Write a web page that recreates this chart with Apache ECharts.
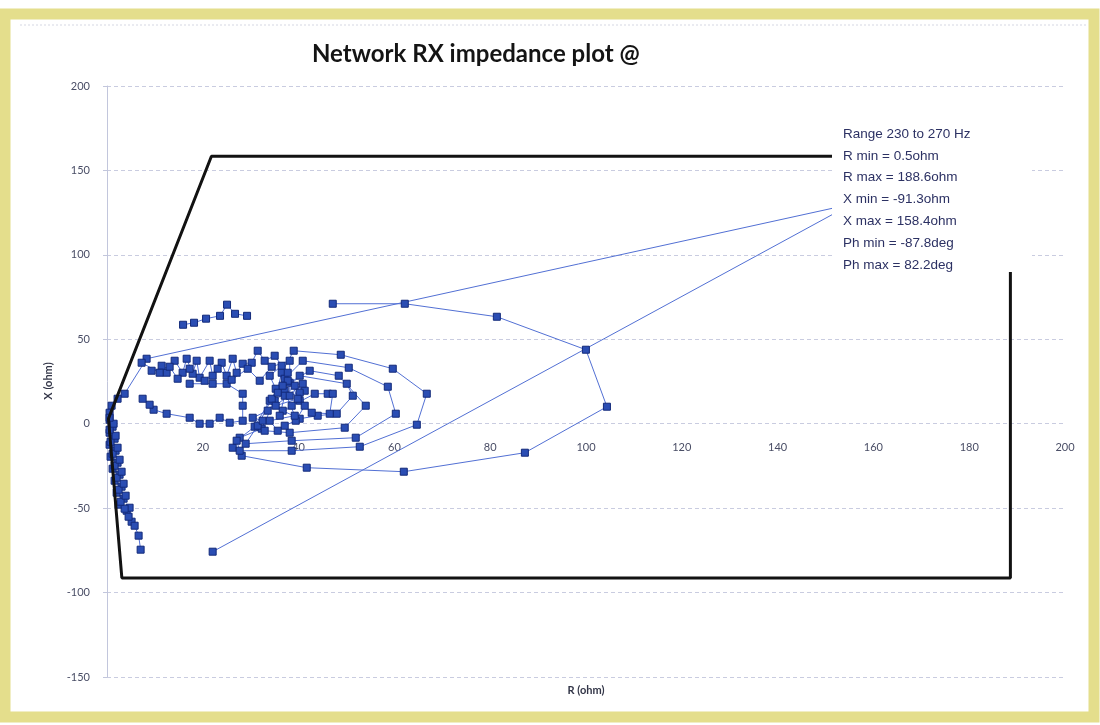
<!DOCTYPE html>
<html>
<head>
<meta charset="utf-8">
<title>Network RX impedance plot</title>
<script src="https://cdn.jsdelivr.net/npm/echarts@6/dist/echarts.min.js"></script>
<style>
  html, body { margin: 0; padding: 0; background: #ffffff; }
  #chart { width: 1100px; height: 725px; }
</style>
</head>
<body>
<div id="chart"></div>
<script>
// Impedance sweep, resistance R (ohm) against reactance X (ohm).
// A null entry ends one run of the trace so the next run starts unconnected.
const sweepR = [
  22.06, 173.8, 188.6, 8.27, 3.68, 2.21, 0.96, 0.54, 0.54, 1.17, 0.54, 1.59, 0.54, 1.80, 0.75,
  2.21, 1.17, 2.63, 1.59, 3.05, 2.01, 3.47, 2.42, 4.09, 4.72, 5.14, 5.77, 6.60, 7.02,
  null,
  47.13, 62.17, 81.39, 99.98, 104.37, 87.24, 61.96, 41.70, 28.12, 26.24, 27.70, 32.30, 35.01, 36.47,
  38.98, 48.80, 59.66, 66.76, 64.68, 52.77, 38.56, 27.70, 27.07, 30.83, 33.97, 37.10,
  40.86, 50.47, 58.62, 60.29, 51.93, 38.56, 28.95, 31.46, 34.39, 38.14,
  42.32, 48.38, 54.02, 49.63, 38.14, 32.92, 32.50, 30.42, 33.55, 37.10,
  40.23, 50.05, 51.31, 47.96, 43.99, 40.23, 36.68,
  43.37, 46.08, 47.13, 46.50, 42.74,
  40.23, 38.56, 36.06, 37.10, 39.19, 41.28, 37.73, 35.22, 33.97, 36.47, 35.01, 32.92,
  31.46, 30.21, 28.33, 27.07, 26.24, 24.98, 23.94, 22.06, 21.43, 19.34, 18.72, 17.88, 16.63,
  15.79, 14.12, 12.45, 11.41, 10.99, 7.23,
  null,
  17.26, 22.06, 24.98, 28.33, 28.33, 28.33, 25.61, 23.52, 21.43, 19.34, 17.26, 12.45, 9.73, 8.90, 7.44,
  null,
  15.88, 18.17, 20.68, 23.60, 25.06, 26.73, 29.24,
  null,
  9.32, 13.08, 14.75, 17.26, 20.39, 23.10, 26.03, 29.37, 31.88, 34.39, 38.14,
  38.14, 40.23, 41.28, 39.40, 37.10,
  null,
  4.51, 3.68, 2.84, 3.89, 2.42, 3.47, 2.01, 3.05, 1.59, 2.63, 1.17, 2.21, 0.75, 1.80, 0.54, 1.38, 0.54,
  null,
  35.64, 37.73, 39.82, 35.22, 40.86, 36.68, 39.19, 33.97, 35.64
];
const sweepX = [
  -75.79, 158.4, 150.7, 38.49, 17.76, 14.80, 10.66, 6.51, 2.37, -1.78, -5.33, -8.88, -12.43, -15.99, -19.54,
  -23.09, -26.65, -30.20, -33.75, -37.30, -40.86, -44.41, -47.96, -51.52, -49.74, -58.03, -60.40, -66.30, -74.60,
  null,
  71.05, 71.05, 63.35, 43.82, 10.07, -17.17, -28.42, -26.05, -18.95, -14.21, -8.29, -2.96, 13.62, 30.20,
  43.22, 40.85, 32.57, 17.76, -0.59, -13.62, -15.99, -15.99, -10.07, -1.78, 13.62, 26.64,
  37.30, 33.16, 21.91, 5.92, -8.29, -10.07, -11.84, -1.18, 14.80, 24.28,
  31.38, 28.42, 10.66, -2.37, -5.33, -4.14, 1.78, 3.55, 7.70, 19.54,
  28.42, 23.68, 16.58, 5.92, 4.74, 2.96, 7.70,
  17.76, 17.76, 17.76, 5.92, 6.51,
  13.62, 10.66, 4.74, 16.58, 22.50, 19.54, 25.46, 20.72, 28.42, 34.34, 40.26, 37.30,
  43.22, 36.12, 35.53, 30.20, 38.49, 28.42, 36.12, 28.42, 37.30, 27.24, 37.30, 29.61, 38.49,
  30.20, 37.30, 30.20, 34.34, 30.20, 36.12,
  null,
  23.68, 23.68, 23.68, 17.76, 10.66, 1.78, 0.59, 3.55, 0.00, 0.00, 3.55, 5.92, 8.29, 11.25, 14.80,
  null,
  58.6, 59.8, 62.2, 63.9, 70.5, 65.1, 63.9,
  null,
  31.38, 33.75, 26.64, 32.57, 25.46, 32.57, 26.05, 32.57, 25.46, 33.75, 37.30,
  16.58, 18.35, 10.66, 1.78, -1.18,
  null,
  -55.07, -50.33, -46.19, -42.63, -39.08, -35.53, -31.98, -28.42, -24.87, -21.32, -17.76, -14.21, -10.66, -7.11, -3.55, 0.00, 3.55,
  null,
  18.35, 30.20, 14.80, 10.66, 23.68, 22.50, 4.74, 1.78, -4.14
];

// Protection zone outline
const boundaryR = [188.6, 21.8, 0.3, 3.1, 188.6, 188.6];
const boundaryX = [158.4, 158.4, 3.0, -91.3, -91.3, 158.4];

// Axis ranges and steps: [min, max, interval]
const rAxisRange = [0, 200, 20];
const xAxisRange = [-150, 200, 50];

// Sweep summary shown in the box at the upper right
const summaryLines = [
  'Range 230 to 270 Hz',
  'R min = 0.5ohm',
  'R max = 188.6ohm',
  'X min = -91.3ohm',
  'X max = 158.4ohm',
  'Ph min = -87.8deg',
  'Ph max = 82.2deg'
];

const chartTitle = 'Network RX impedance plot @';
const rAxisName = 'R (ohm)';
const xAxisName = 'X (ohm)';

const trace = sweepR.map((r, i) => (r === null ? ['-', '-'] : [r, sweepX[i]]));
const boundary = boundaryR.map((r, i) => [r, boundaryX[i]]);

const labelFont = 'Lato';
const labelColor = '#4a4e66';
const gridColor = '#c9cce0';

// Plot area in pixels
const gridTop = 86;
const gridBottom = 48;
const plotHeight = 725 - gridTop - gridBottom;
// The R axis crosses the X axis at X = 0: lift it from the bottom edge by that distance
const rAxisLift = plotHeight * (0 - xAxisRange[0]) / (xAxisRange[1] - xAxisRange[0]);

// White summary panel sits above the plot and hides whatever runs beneath it
const summaryPanel = [
  {
    type: 'rect', silent: true, z: 100,
    shape: { x: 832, y: 116, width: 200, height: 156 },
    style: { fill: '#ffffff' }
  }
].concat(summaryLines.map((t, i) => ({
  type: 'text', silent: true, z: 101,
  style: {
    text: t, x: 843, y: 134 + i * 21.8,
    font: '13.5px "Liberation Sans"', fill: '#2c3163',
    align: 'left', verticalAlign: 'middle'
  }
})));

const option = {
  animation: false,
  backgroundColor: '#ffffff',
  title: {
    text: chartTitle,
    left: 312, top: 42, padding: 0,
    textStyle: { fontFamily: labelFont, fontWeight: 'bold', fontSize: 24, color: '#141414' }
  },
  grid: { left: 107, right: 35, top: gridTop, bottom: gridBottom, outerBoundsMode: 'none' },
  xAxis: {
    type: 'value',
    position: 'bottom',
    offset: -rAxisLift,
    min: rAxisRange[0], max: rAxisRange[1], interval: rAxisRange[2],
    axisLine: { show: false, onZero: false },
    axisTick: { show: false },
    splitLine: { show: false },
    axisLabel: {
      margin: 18, fontSize: 11, fontFamily: labelFont, color: labelColor,
      formatter: v => (v === 0 ? '' : String(v))
    }
  },
  yAxis: {
    type: 'value',
    min: xAxisRange[0], max: xAxisRange[1], interval: xAxisRange[2],
    axisLine: { show: true, onZero: false, lineStyle: { color: '#c2c6dc', width: 1 } },
    axisTick: { show: true, length: 4, lineStyle: { color: '#c2c6dc' } },
    axisLabel: { margin: 17, fontSize: 11, fontFamily: labelFont, color: labelColor },
    splitLine: { show: true, lineStyle: { color: gridColor, width: 1, type: [4, 3] } }
  },
  series: [
    {
      name: 'Impedance',
      type: 'line',
      data: trace,
      connectNulls: false,
      showSymbol: true,
      symbol: 'rect',
      symbolSize: 7,
      lineStyle: { color: '#5270d4', width: 1 },
      itemStyle: { color: '#2a4db3', borderColor: '#132a7a', borderWidth: 1 },
      emphasis: { disabled: true },
      z: 3
    },
    {
      name: 'Boundary',
      type: 'line',
      data: boundary,
      symbol: 'none',
      lineStyle: { color: '#121212', width: 3 },
      emphasis: { disabled: true },
      z: 4
    }
  ],
  graphic: [
    {
      type: 'rect', silent: true, z: -1,
      shape: { x: 5, y: 14, width: 1089, height: 703 },
      style: { fill: 'none', stroke: '#e4de8c', lineWidth: 11 }
    },
    {
      type: 'line', silent: true, z: -1,
      shape: { x1: 20, y1: 25, x2: 1086, y2: 25 },
      style: { stroke: '#d6d8e4', lineWidth: 1, lineDash: [2, 2] }
    },
    {
      type: 'text', silent: true, z: 10,
      x: 586, y: 690,
      style: { text: rAxisName, font: 'bold 11px Lato', fill: '#333648', align: 'center', verticalAlign: 'middle' }
    },
    {
      type: 'text', silent: true, z: 10,
      x: 48, y: 381, rotation: Math.PI / 2,
      style: { text: xAxisName, font: 'bold 11px Lato', fill: '#333648', align: 'center', verticalAlign: 'middle' }
    }
  ].concat(summaryPanel)
};

const chart = echarts.init(document.getElementById('chart'), null, { renderer: 'canvas' });
chart.setOption(option);
</script>
</body>
</html>
